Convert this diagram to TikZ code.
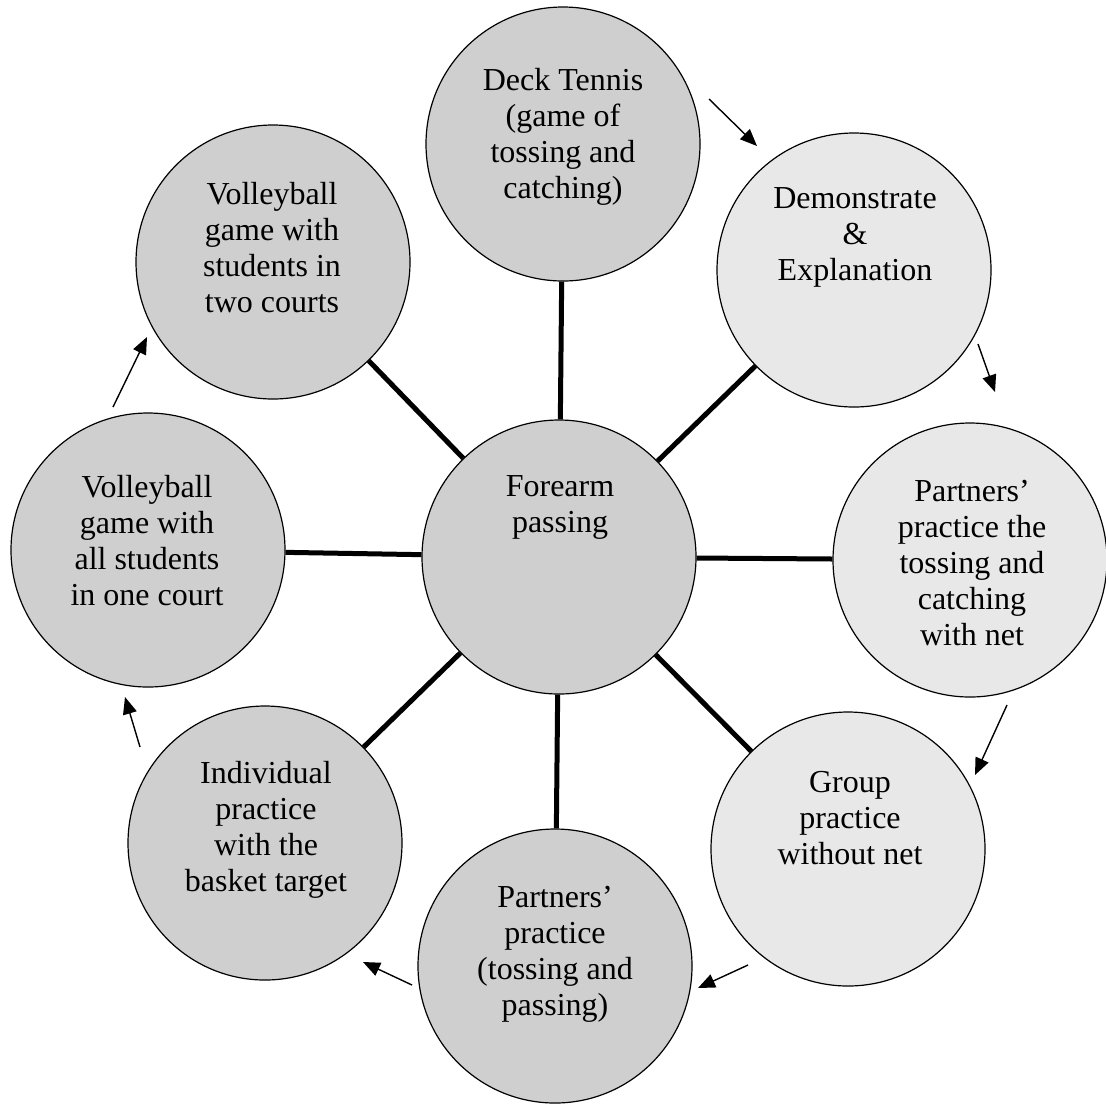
\documentclass[tikz,border=0pt]{standalone}
\usepackage{fontspec}
\setmainfont{Liberation Serif}
\usetikzlibrary{arrows.meta}
\begin{document}
\begin{tikzpicture}[x=0.5pt,y=-0.5pt,
  bubble/.style={circle,draw=black,line width=0.6pt,minimum size=137pt,inner sep=0pt},
  dark/.style={bubble,fill=black!19},
  light/.style={bubble,fill=black!9},
  txt/.style={align=center,font=\fontsize{16}{18}\selectfont,inner sep=0pt},
  spoke/.style={line width=2.5pt},
  flow/.style={line width=0.7pt,-{Triangle[length=8.5pt,width=7pt]}}]
\useasboundingbox (0,0) rectangle (1106,1104);

% circles
\node[dark]  (hub)   at (559,557) {};
\node[dark]  (deck)  at (563,144) {};
\node[light] (demo)  at (854,270) {};
\node[light] (pnet)  at (970,560) {};
\node[light] (group) at (848,849) {};
\node[dark]  (pbot)  at (555,966) {};
\node[dark]  (indiv) at (265,843) {};
\node[dark]  (vball) at (148,550) {};
\node[dark]  (vbtwo) at (273,262) {};

% spokes from the hub
\foreach \n in {deck,demo,pnet,group,pbot,indiv,vball,vbtwo}
  \draw[spoke] (hub) -- (\n);

% texts
\node[txt] (hubtxt)   at (560,507) {Forearm\\passing};
\node[txt] (decktxt)  at (563,137) {Deck Tennis\\(game of\\tossing and\\catching)};
\node[txt] (demotxt)  at (855,237) {Demonstrate\\\&\\Explanation};
\node[txt] (pnettxt)  at (972,563) {Partners’\\practice the\\tossing and\\catching\\with net};
\node[txt] (grouptxt) at (850,818) {Group\\practice\\without net};
\node[txt] (pbottxt)  at (555,954) {Partners’\\practice\\(tossing and\\passing)};
\node[txt] (indivtxt) at (266,830) {Individual\\practice\\with the\\basket target};
\node[txt] (vballtxt) at (147,541) {Volleyball\\game with\\all students\\in one court};
\node[txt] (vbtwotxt) at (272,248) {Volleyball\\game with\\students in\\two courts};

% sequence arrows
\coordinate (a1s) at (709,99);   \coordinate (a1e) at (757,146);
\coordinate (a2s) at (978,344);  \coordinate (a2e) at (995,392);
\coordinate (a3s) at (1007,705); \coordinate (a3e) at (975,775);
\coordinate (a4s) at (748,965);  \coordinate (a4e) at (698,988);
\coordinate (a5s) at (412,985);  \coordinate (a5e) at (363,962);
\coordinate (a6s) at (140,747);  \coordinate (a6e) at (125,697);
\coordinate (a7s) at (113,407);  \coordinate (a7e) at (147,337);
\foreach \i in {1,...,7}
  \draw[flow] (a\i s) -- (a\i e);
\end{tikzpicture}
\end{document}
